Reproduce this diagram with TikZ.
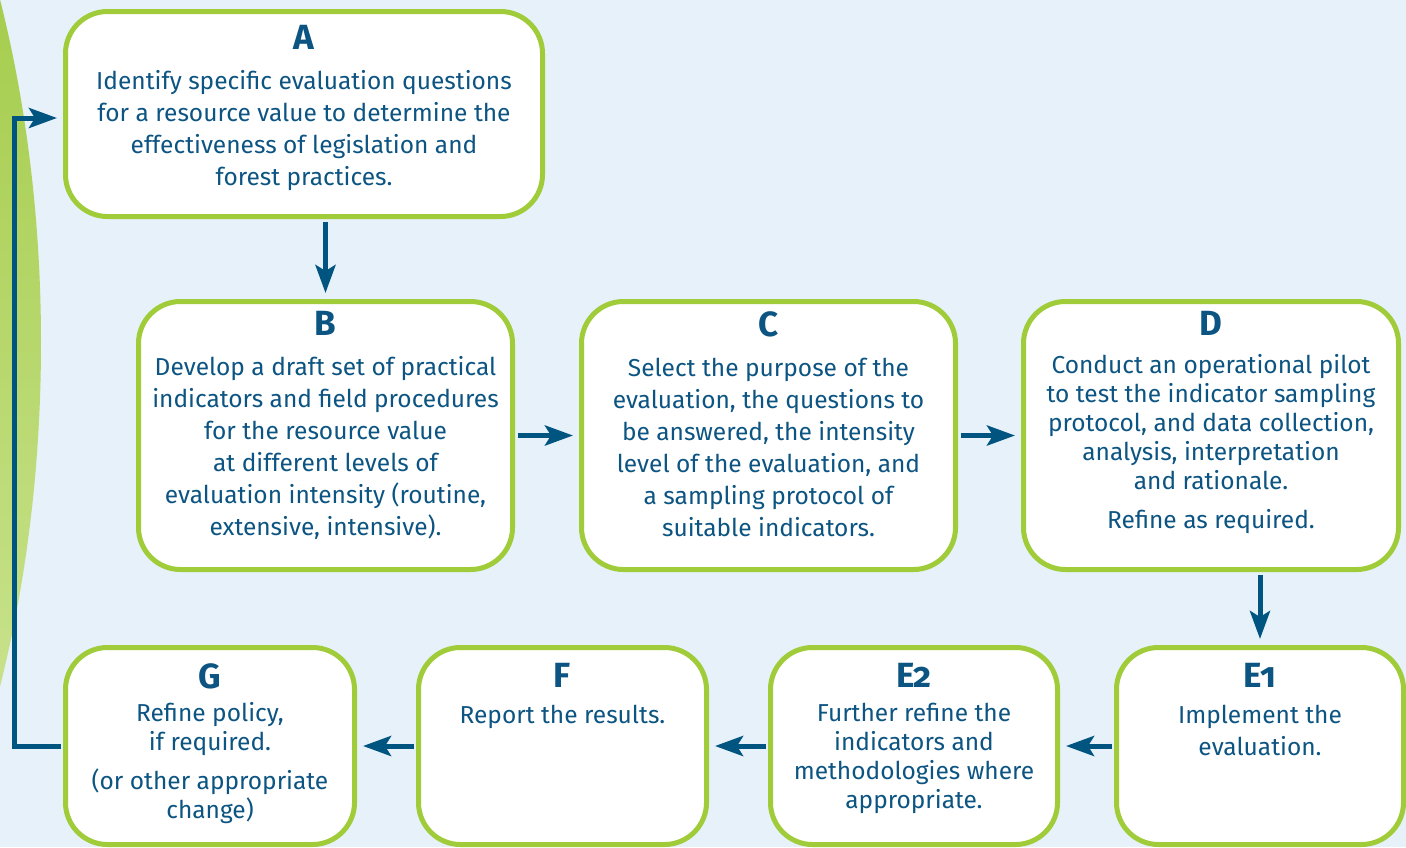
\documentclass[tikz,border=0pt]{standalone}
\usepackage{fontspec}
\setmainfont{Fira Sans}
\newfontfamily\tagfont[Numbers=OldStyle]{Fira Sans}
\usetikzlibrary{positioning,arrows.meta}

\definecolor{bgblue}{RGB}{230,241,250}
\definecolor{leafgreen}{RGB}{160,204,58}
\definecolor{inkblue}{RGB}{12,84,130}
\definecolor{arrowblue}{RGB}{0,84,128}
\definecolor{archtop}{RGB}{166,205,78}
\definecolor{archbottom}{RGB}{200,226,140}

\begin{document}
\begin{tikzpicture}[x=1pt, y=-1pt,
    stagebox/.style 2 args={draw=leafgreen, line width=5pt, fill=white,
      rounded corners=42pt, minimum width=#1pt, minimum height=#2pt, inner sep=0pt},
    stagetag/.style={text=inkblue, inner sep=0pt, font=\tagfont\bfseries\fontsize{35}{40}\selectfont},
    stagetext/.style={text=inkblue, align=center, inner sep=0pt, font=\fontsize{24.5}{32}\selectfont},
    stagetight/.style={stagetext, font=\fontsize{24.5}{29}\selectfont},
    flow/.style={draw=arrowblue, line width=5pt, shorten <=2.5pt, shorten >=6pt,
      -{Stealth[length=28pt, width=20pt, inset=6pt]}}]

    % Frame and background
    \clip (0,0) rectangle (1406,847);
    \fill[bgblue] (0,0) rectangle (1406,847);

    % Green arch on the left edge
    \begin{scope}
        \clip (-400,343) ellipse [x radius=441pt, y radius=815pt];
        \shade[top color=archtop, bottom color=archbottom] (-10,0) rectangle (60,700);
    \end{scope}

    % Top row
    \node[stagebox={477}{205}] (a) at (304,114) {};
    \node[stagetag, below=16pt of a.north] (ta) {A};
    \node[stagetext, below=21pt of ta] (xa) {Identify specific evaluation questions\\
        for a resource value to determine the\\ effectiveness of legislation and\\ forest practices.};

    % Middle row
    \node[stagebox={374}{268}] (b) at (325.5,435.5) {};
    \node[stagetag, below=12pt of b.north] (tb) {B};
    \node[stagetext, below=21pt of tb] (xb) {Develop a draft set of practical\\
        indicators and field procedures\\ for the resource value\\ at different levels of\\
        evaluation intensity (routine,\\ extensive, intensive).};

    \node[stagebox={374}{268}] (c) at (768.5,435.5) {};
    \node[stagetag, below=12pt of c.north] (tc) {C};
    \node[stagetext, below=21pt of tc] (xc) {Select the purpose of the\\
        evaluation, the questions to\\ be answered, the intensity\\
        level of the evaluation, and\\ a sampling protocol of\\ suitable indicators.};

    \node[stagebox={375}{268}] (d) at (1211,435.5) {};
    \node[stagetag, below=12pt of d.north] (td) {D};
    \node[stagetight, below=19pt of td] (xd) {Conduct an operational pilot\\
        to test the indicator sampling\\ protocol, and data collection,\\
        analysis, interpretation\\ and rationale.\\[10pt] Refine as required.};

    % Bottom row
    \node[stagebox={287}{197}] (eone) at (1260,746) {};
    \node[stagetag, below=18pt of eone.north] (teone) {E1};
    \node[stagetext, below=17pt of teone] (xeone) {Implement the\\ evaluation.};

    \node[stagebox={287}{197}] (etwo) at (914,746) {};
    \node[stagetag, below=18pt of etwo.north] (tetwo) {E2};
    \node[stagetight, below=15pt of tetwo] (xetwo) {Further refine the\\
        indicators and\\ methodologies where\\ appropriate.};

    \node[stagebox={288}{197}] (f) at (562.5,746) {};
    \node[stagetag, below=18pt of f.north] (tf) {F};
    \node[stagetext, below=17pt of tf] (xf) {Report the results.};

    \node[stagebox={289}{197}] (g) at (210,746) {};
    \node[stagetag, below=18pt of g.north] (tg) {G};
    \node[stagetight, below=13pt of tg] (xg) {Refine policy,\\ if required.\\[10pt]
        (or other appropriate\\ change)};

    % Connectors
    \draw[flow] (a.south -| b.north) -- (b.north);
    \draw[flow] (d.south -| eone.north) -- (eone.north);
    \foreach \s/\t in {b/c, c/d}
        \draw[flow] (\s.east) -- (\t.west);
    \foreach \s/\t in {eone/etwo, etwo/f, f/g}
        \draw[flow] (\s.west) -- (\t.east);
    \coordinate (turn) at (14,118);
    \draw[flow] (g.west) -| (turn) -- (a.west |- turn);
\end{tikzpicture}
\end{document}
